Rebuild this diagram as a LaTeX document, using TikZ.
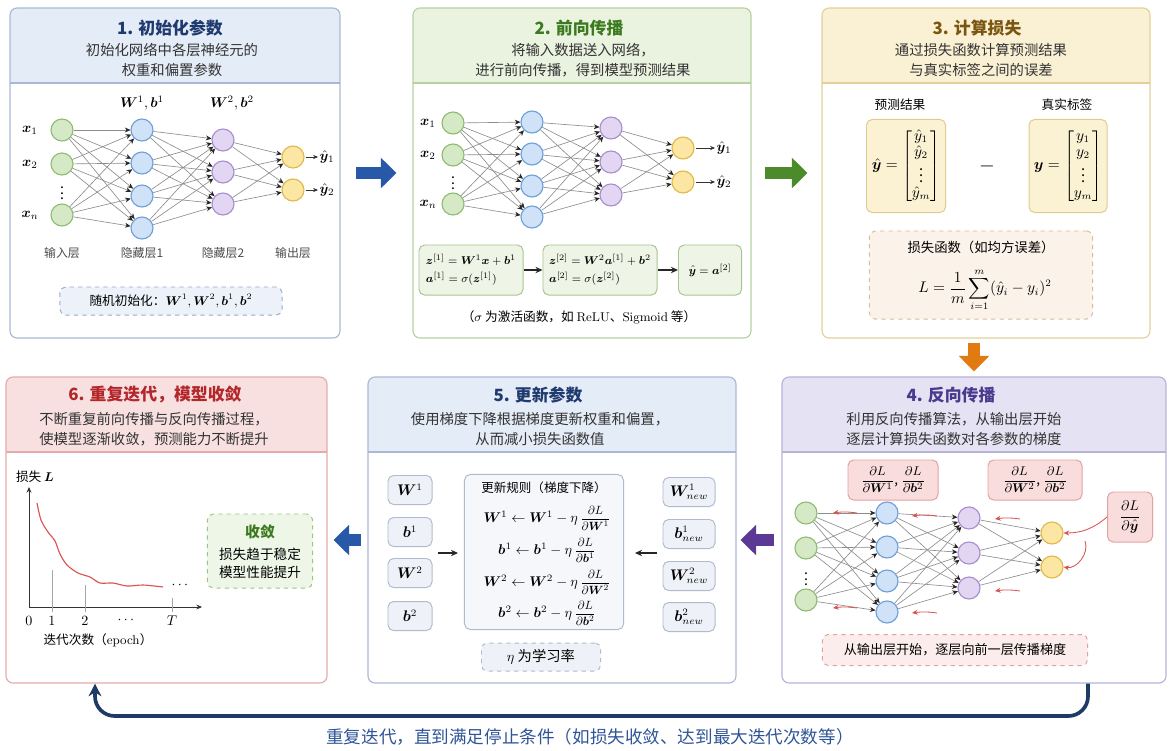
\documentclass[tikz,border=0pt]{standalone}
\usepackage{amsmath,amssymb}
\usepackage{bm}
\usepackage[no-math]{fontspec}
\setmainfont{Noto Sans CJK SC}
\usetikzlibrary{positioning,fit,arrows.meta}

\definecolor{bluebd}{HTML}{A9B9D3}
\definecolor{bluehd}{HTML}{E4ECF7}
\definecolor{bluetx}{HTML}{1F3A6E}
\definecolor{greenbd}{HTML}{B7D1A2}
\definecolor{greenhd}{HTML}{EAF2E0}
\definecolor{greentx}{HTML}{3C7A1E}
\definecolor{goldbd}{HTML}{E3D09A}
\definecolor{goldhd}{HTML}{FAF0D4}
\definecolor{goldtx}{HTML}{7B5610}
\definecolor{purpbd}{HTML}{B8B2D8}
\definecolor{purphd}{HTML}{E5E2F3}
\definecolor{purptx}{HTML}{4A3A8E}
\definecolor{redbd}{HTML}{E4ABAB}
\definecolor{redhd}{HTML}{F8E0E0}
\definecolor{redtx}{HTML}{B3262A}
\definecolor{infill}{HTML}{D6E9C6}
\definecolor{inbd}{HTML}{8FBB72}
\definecolor{hafill}{HTML}{CFE2F8}
\definecolor{habd}{HTML}{6E9FD6}
\definecolor{hbfill}{HTML}{E2D6F2}
\definecolor{hbbd}{HTML}{A98DD1}
\definecolor{outfill}{HTML}{FCE6A4}
\definecolor{outbd}{HTML}{E2B84A}
\definecolor{arrblue}{HTML}{2859A8}
\definecolor{arrgreen}{HTML}{4C8B2B}
\definecolor{arrorange}{HTML}{E27A12}
\definecolor{arrpurple}{HTML}{5B3995}
\definecolor{loopnavy}{HTML}{1E3A66}
\definecolor{looptx}{HTML}{2F5597}
\definecolor{gradred}{HTML}{D9534F}
\definecolor{gradfill}{HTML}{F9DCDC}
\definecolor{gradbd}{HTML}{E3A2A2}
\definecolor{gradsoft}{HTML}{FCEDED}
\definecolor{fwdfill}{HTML}{EEF5E6}
\definecolor{fwdbd}{HTML}{A8C690}
\definecolor{lossfill}{HTML}{FBF1D3}
\definecolor{lossbd}{HTML}{E0CB8E}
\definecolor{losssoft}{HTML}{FBF3EA}
\definecolor{lossdash}{HTML}{D8BE98}
\definecolor{parfill}{HTML}{EEF2F8}
\definecolor{parbd}{HTML}{B0BCCD}
\definecolor{initfill}{HTML}{EDF2FA}
\definecolor{initdash}{HTML}{9AAAC5}
\definecolor{convfill}{HTML}{EEF6E8}
\definecolor{convbd}{HTML}{9EC485}

\newcommand{\gradfrac}[2]{\scalebox{0.85}{$\dfrac{#1}{#2}$}}

\tikzset{
        % Panels with a coloured header band
        panel/.style 2 args={draw=#1, fill=white, rounded corners=5pt, line width=0.8pt, inner sep=0pt,
            path picture={\fill[#2, sharp corners] (path picture bounding box.north west) rectangle ([yshift=-1.875cm]path picture bounding box.north east);
                \draw[#1, line width=0.8pt, sharp corners] ([yshift=-1.875cm]path picture bounding box.north west) -- ([yshift=-1.875cm]path picture bounding box.north east);}},
        panel_title/.style={font=\bfseries\fontsize{12}{14}\selectfont},
        panel_sub/.style={align=center, text=black!80, font=\fontsize{10.2}{13.8}\selectfont},
        % Neurons
        neuron/.style={circle, line width=0.8pt, minimum size=0.55cm, inner sep=0pt},
        node_input/.style={neuron, draw=inbd, fill=infill},
        node_hidden_a/.style={neuron, draw=habd, fill=hafill},
        node_hidden_b/.style={neuron, draw=hbbd, fill=hbfill},
        node_output/.style={neuron, draw=outbd, fill=outfill},
        conn/.style={draw=black!45, line width=0.45pt, -{Stealth[length=4pt,width=3.5pt,color=black!85]}},
        out_arrow/.style={draw=black!80, line width=0.5pt, -{Stealth[length=3.5pt,width=3pt]}, shorten <=1pt},
        step_arrow/.style={draw=black!85, line width=1pt, -{Stealth[length=5pt,width=4.5pt]}},
        grad_arrow/.style={draw=gradred, line width=0.6pt, -{Stealth[length=4pt,width=3.5pt]}},
        % Texts
        layer_label/.style={inner sep=1pt, text=black!70, font=\fontsize{8.5}{10}\selectfont},
        math_label/.style={inner sep=1pt, font=\fontsize{10}{12}\selectfont},
        small_text/.style={inner sep=1pt, font=\fontsize{9}{11}\selectfont},
        % Boxes
        soft_box/.style={rounded corners=4pt, line width=0.7pt, inner sep=2pt},
        dash_box/.style={soft_box, dashed},
        % Big flow arrows
        flow/.style={line width=8.5pt, -{Triangle[length=11pt,width=21pt]}},
        loop_line/.style={draw=loopnavy, line width=2.6pt, rounded corners=14pt, -{Stealth[length=9pt,width=9pt]}}
}

\begin{document}
\begin{tikzpicture}[x=0.025cm, y=-0.025cm]
\useasboundingbox (0,0) rectangle (1174,750);

% Panels
\node[panel={bluebd}{bluehd}, fit={(10,8) (340,338)}] (p1) {};
\node[panel={greenbd}{greenhd}, fit={(413,8) (751,338)}] (p2) {};
\node[panel={goldbd}{goldhd}, fit={(822,8) (1150,338)}] (p3) {};
\node[panel={purpbd}{purphd}, fit={(782,377) (1166,683)}] (p4) {};
\node[panel={bluebd}{bluehd}, fit={(368,377) (736,683)}] (p5) {};
\node[panel={redbd}{redhd}, fit={(6,377) (327,683)}] (p6) {};

% Headers
\node[panel_title, text=bluetx] (p1-title) at (170,28) {1. 初始化参数};
\node[panel_sub] (p1-sub) at (172,60) {初始化网络中各层神经元的\\权重和偏置参数};
\node[panel_title, text=greentx] (p2-title) at (579,28) {2. 前向传播};
\node[panel_sub] (p2-sub) at (583,60) {将输入数据送入网络，\\进行前向传播，得到模型预测结果};
\node[panel_title, text=goldtx] (p3-title) at (977,28) {3. 计算损失};
\node[panel_sub] (p3-sub) at (981,60) {通过损失函数计算预测结果\\与真实标签之间的误差};
\node[panel_title, text=purptx] (p4-title) at (951,395) {4. 反向传播};
\node[panel_sub] (p4-sub) at (954,429) {利用反向传播算法，从输出层开始\\逐层计算损失函数对各参数的梯度};
\node[panel_title, text=bluetx] (p5-title) at (538,395) {5. 更新参数};
\node[panel_sub] (p5-sub) at (540,429) {使用梯度下降根据梯度更新权重和偏置，\\从而减小损失函数值};
\node[panel_title, text=redtx] (p6-title) at (155,395) {6. 重复迭代，模型收敛};
\node[panel_sub] (p6-sub) at (154,429) {不断重复前向传播与反向传播过程，\\使模型逐渐收敛，预测能力不断提升};

% 1. network with initial parameters
\foreach \y [count=\i] in {130,164,215}
    \node[node_input] (a-in\i) at (62,\y) {};
\foreach \y [count=\i] in {130,163,196,228}
    \node[node_hidden_a] (a-ha\i) at (142,\y) {};
\foreach \y [count=\i] in {140,172,204}
    \node[node_hidden_b] (a-hb\i) at (223,\y) {};
\foreach \y [count=\i] in {157,190}
    \node[node_output] (a-out\i) at (293,\y) {};
\foreach \i in {1,...,3}
    \foreach \j in {1,...,4}
        \draw[conn] (a-in\i) -- (a-ha\j);
\foreach \i in {1,...,4}
    \foreach \j in {1,...,3}
        \draw[conn] (a-ha\i) -- (a-hb\j);
\foreach \i in {1,...,3}
    \foreach \j in {1,2}
        \draw[conn] (a-hb\i) -- (a-out\j);
\node[math_label] (a-x1) at (30,130) {$\bm x_1$};
\node[math_label] (a-x2) at (30,164) {$\bm x_2$};
\node[math_label] (a-xn) at (30,215) {$\bm x_n$};
\node[inner sep=0pt] (a-dots) at (62,189) {$\vdots$};
\node[math_label] (a-y1) at (327,157) {$\hat{\bm y}_1$};
\node[math_label] (a-y2) at (327,190) {$\hat{\bm y}_2$};
\draw[out_arrow] (a-out1) -- (a-y1);
\draw[out_arrow] (a-out2) -- (a-y2);
\node[math_label] (a-w1) at (142,103) {$\bm W^1, \bm b^1$};
\node[math_label] (a-w2) at (232,103) {$\bm W^2, \bm b^2$};
\node[layer_label] (a-l1) at (62,253) {输入层};
\node[layer_label] (a-l2) at (142,253) {隐藏层1};
\node[layer_label] (a-l3) at (223,253) {隐藏层2};
\node[layer_label] (a-l4) at (293,253) {输出层};
\node[dash_box, draw=initdash, fill=initfill, minimum width=5.55cm, minimum height=0.7cm, font=\fontsize{9}{11}\selectfont] (a-init) at (171,301) {随机初始化：$\bm W^1, \bm W^2, \bm b^1, \bm b^2$};

% 2. forward pass
\foreach \y [count=\i] in {123,155,204}
    \node[node_input] (b-in\i) at (453,\y) {};
\foreach \y [count=\i] in {122,154,186,217}
    \node[node_hidden_a] (b-ha\i) at (532,\y) {};
\foreach \y [count=\i] in {128,162,195}
    \node[node_hidden_b] (b-hb\i) at (611,\y) {};
\foreach \y [count=\i] in {148,182}
    \node[node_output] (b-out\i) at (683,\y) {};
\foreach \i in {1,...,3}
    \foreach \j in {1,...,4}
        \draw[conn] (b-in\i) -- (b-ha\j);
\foreach \i in {1,...,4}
    \foreach \j in {1,...,3}
        \draw[conn] (b-ha\i) -- (b-hb\j);
\foreach \i in {1,...,3}
    \foreach \j in {1,2}
        \draw[conn] (b-hb\i) -- (b-out\j);
\node[math_label] (b-x1) at (428,123) {$\bm x_1$};
\node[math_label] (b-x2) at (428,155) {$\bm x_2$};
\node[math_label] (b-xn) at (428,204) {$\bm x_n$};
\node[inner sep=0pt] (b-dots) at (453,179) {$\vdots$};
\node[math_label] (b-y1) at (724,148) {$\hat{\bm y}_1$};
\node[math_label] (b-y2) at (724,182) {$\hat{\bm y}_2$};
\draw[out_arrow] (b-out1) -- (b-y1);
\draw[out_arrow] (b-out2) -- (b-y2);
\node[soft_box, draw=fwdbd, fill=fwdfill, minimum width=2.6cm, minimum height=1.25cm, align=left, font=\fontsize{8}{13}\selectfont] (b-f1) at (471,270)
    {$\bm z^{[1]} = \bm W^1\bm x + \bm b^1$\\$\bm a^{[1]} = \sigma(\bm z^{[1]})$};
\node[soft_box, draw=fwdbd, fill=fwdfill, minimum width=2.85cm, minimum height=1.25cm, align=left, font=\fontsize{8}{13}\selectfont] (b-f2) at (600,270)
    {$\bm z^{[2]} = \bm W^2\bm a^{[1]} + \bm b^2$\\$\bm a^{[2]} = \sigma(\bm z^{[2]})$};
\node[soft_box, draw=fwdbd, fill=fwdfill, minimum width=1.575cm, minimum height=1.25cm, font=\fontsize{8.5}{13}\selectfont] (b-f3) at (710,270)
    {$\hat{\bm y} = \bm a^{[2]}$};
\draw[step_arrow] (b-f1) -- (b-f2);
\draw[step_arrow] (b-f2) -- (b-f3);
\node[small_text] (b-note) at (579,317) {（$\sigma$ 为激活函数，如 $\mathrm{ReLU}$、$\mathrm{Sigmoid}$ 等）};

% 3. loss
\node[small_text] (c-lp) at (900,105) {预测结果};
\node[small_text] (c-lt) at (1067,105) {真实标签};
\node[soft_box, draw=lossbd, fill=lossfill, minimum width=1.975cm, minimum height=2.325cm, font=\fontsize{10.5}{11}\selectfont] (c-pred) at (906,166)
    {$\hat{\bm y} = \begin{bmatrix} \hat{y}_1\\ \hat{y}_2\\ \vdots\\ \hat{y}_m \end{bmatrix}$};
\node[soft_box, draw=lossbd, fill=lossfill, minimum width=1.95cm, minimum height=2.325cm, font=\fontsize{10.5}{11}\selectfont] (c-true) at (1068,166)
    {$\bm y = \begin{bmatrix} y_1\\ y_2\\ \vdots\\ y_m \end{bmatrix}$};
\node[font=\Large, inner sep=1pt] (c-minus) at (987,166) {$-$};
\node[dash_box, draw=lossdash, fill=losssoft, minimum width=5.575cm, minimum height=2.2cm] (c-lossbox) at (981,275) {};
\node[inner sep=1pt, font=\fontsize{9.5}{11}\selectfont] (c-losslabel) at (981,247) {损失函数（如均方误差）};
\node[inner sep=0pt, font=\fontsize{10.5}{12}\selectfont] (c-loss) at (985,290) {$\displaystyle L = \frac{1}{m}\sum_{i=1}^{m}(\hat{y}_i - y_i)^2$};

% 4. backward pass
\foreach \y [count=\i] in {513,548,600}
    \node[node_input] (d-in\i) at (806,\y) {};
\foreach \y [count=\i] in {513,547,581,612}
    \node[node_hidden_a] (d-ha\i) at (887,\y) {};
\foreach \y [count=\i] in {518,553,588}
    \node[node_hidden_b] (d-hb\i) at (969,\y) {};
\foreach \y [count=\i] in {533,567}
    \node[node_output] (d-out\i) at (1052,\y) {};
\foreach \i in {1,...,3}
    \foreach \j in {1,...,4}
        \draw[conn] (d-in\i) -- (d-ha\j);
\foreach \i in {1,...,4}
    \foreach \j in {1,...,3}
        \draw[conn] (d-ha\i) -- (d-hb\j);
\foreach \i in {1,...,3}
    \foreach \j in {1,2}
        \draw[conn] (d-hb\i) -- (d-out\j);
\node[inner sep=0pt] (d-dots) at (806,575) {$\vdots$};
\node[soft_box, draw=gradbd, fill=gradfill, minimum width=2.25cm, minimum height=1cm, font=\fontsize{9.5}{11}\selectfont] (d-g1) at (893,480)
    {$\dfrac{\partial L}{\partial \bm W^1}$, $\dfrac{\partial L}{\partial \bm b^2}$};
\node[soft_box, draw=gradbd, fill=gradfill, minimum width=2.35cm, minimum height=1cm, font=\fontsize{9.5}{11}\selectfont] (d-g2) at (1035,480)
    {$\dfrac{\partial L}{\partial \bm W^2}$, $\dfrac{\partial L}{\partial \bm b^2}$};
\node[soft_box, draw=gradbd, fill=gradfill, minimum width=1.125cm, minimum height=1.25cm, font=\fontsize{10}{11}\selectfont] (d-gy) at (1130,517)
    {$\dfrac{\partial L}{\partial \hat{\bm y}}$};
\foreach \xa/\xb/\y [count=\i] in {857/833/513, 937/912/516, 1020/995/519, 857/833/608, 937/912/613, 1020/995/591} {
    \coordinate (d-r\i s) at (\xa,\y);
    \coordinate (d-r\i e) at (\xb,\y);
    \draw[grad_arrow] (d-r\i s) to[bend right=8] (d-r\i e);
}
\draw[grad_arrow] (d-gy.west) to[bend left=20] (d-out1.east);
\coordinate (d-back) at (1085,541);
\draw[grad_arrow] (d-back) to[bend left=60] (d-out2.east);
\node[dash_box, draw=gradbd, fill=gradsoft, minimum width=6.625cm, minimum height=0.775cm, font=\fontsize{9.3}{11}\selectfont] (d-note) at (955,650)
    {从输出层开始，逐层向前一层传播梯度};

% 5. parameter update
\foreach \t/\y [count=\i] in {{\bm W^1}/490, {\bm b^1}/532, {\bm W^2}/573, {\bm b^2}/616}
    \node[soft_box, draw=parbd, fill=parfill, minimum width=1.1cm, minimum height=0.725cm, font=\fontsize{10.5}{12}\selectfont] (e-old\i) at (410,\y) {$\t$};
\foreach \t/\y [count=\i] in {{\bm W^1_{new}}/492, {\bm b^1_{new}}/534, {\bm W^2_{new}}/576, {\bm b^2_{new}}/617}
    \node[soft_box, draw=parbd, fill=parfill, minimum width=1.3cm, minimum height=0.725cm, font=\fontsize{10.5}{12}\selectfont] (e-new\i) at (689,\y) {$\t$};
\node[soft_box, draw=parbd, fill=parfill!60, minimum width=3.975cm, minimum height=3.875cm] (e-rule) at (544,552) {};
\node[inner sep=1pt, font=\fontsize{8.9}{11}\selectfont] (e-rule-title) at (544,488) {更新规则（梯度下降）};
\node[math_label, inner sep=0pt] (e-eq1) at (547,518) {$\bm W^1 \leftarrow \bm W^1 - \eta\,\gradfrac{\partial L}{\partial \bm W^1}$};
\node[math_label, inner sep=0pt] (e-eq2) at (547,550) {$\bm b^1 \leftarrow \bm b^1 - \eta\,\gradfrac{\partial L}{\partial \bm b^1}$};
\node[math_label, inner sep=0pt] (e-eq3) at (547,582) {$\bm W^2 \leftarrow \bm W^2 - \eta\,\gradfrac{\partial L}{\partial \bm W^2}$};
\node[math_label, inner sep=0pt] (e-eq4) at (547,613) {$\bm b^2 \leftarrow \bm b^2 - \eta\,\gradfrac{\partial L}{\partial \bm b^2}$};
\coordinate (e-in-s) at (438,553);
\coordinate (e-in-e) at (458,553);
\coordinate (e-back-s) at (657,553);
\coordinate (e-back-e) at (635,553);
\draw[step_arrow] (e-in-s) -- (e-in-e);
\draw[step_arrow] (e-back-s) -- (e-back-e);
\node[dash_box, draw=parbd, fill=parfill, minimum width=2.975cm, minimum height=0.7cm, font=\fontsize{10.2}{12}\selectfont] (e-eta) at (541,657) {$\eta$ 为学习率};

% 6. convergence curve
\coordinate (f-o) at (29,607);
\coordinate (f-ytop) at (29,487);
\coordinate (f-xend) at (202,607);
\draw[black!80, line width=0.6pt, -{Stealth[length=4pt,width=3.5pt]}] (f-o) -- (f-ytop);
\draw[black!80, line width=0.6pt, -{Stealth[length=4pt,width=3.5pt]}] (f-o) -- (f-xend);
\foreach \x/\t/\top in {52/1/570, 85/2/585, 172/T/598} {
    \draw[black!35, line width=0.4pt] (\x,\top) -- (\x,612);
    \node[math_label] (f-t\t) at (\x,621) {$\t$};
}
\node[math_label] (f-t0) at (29,621) {$0$};
\node[math_label] (f-tdots) at (127,620) {$\cdots$};
\draw[gradred, line width=0.8pt] plot[smooth] coordinates {(37,503) (41,520) (48,532) (55,541) (60,554) (67,565) (78,573) (90,577) (100,583) (113,583) (127,586) (143,585) (163,587)};
\node[math_label] (f-cdots) at (181,585) {$\cdots$};
\node[small_text] (f-ylabel) at (35,477) {损失 $\bm L$};
\node[small_text] (f-xlabel) at (98,640) {迭代次数（$\mathrm{epoch}$）};
\node[dash_box, draw=convbd, fill=convfill, minimum width=2.625cm, minimum height=1.85cm] (f-conv) at (260,551) {};
\node[inner sep=1pt, font=\bfseries\fontsize{10.5}{12}\selectfont, text=greentx] (f-conv-title) at (260,532) {收敛};
\node[inner sep=1pt, font=\fontsize{9.7}{12.5}\selectfont, align=center] (f-conv-text) at (260,563) {损失趋于稳定\\模型性能提升};

% Flow between the steps
\draw[flow, arrblue, shorten <=0.375cm, shorten >=0.4cm] (p1.east) -- (p2.west);
\draw[flow, arrgreen, shorten <=0.325cm, shorten >=0.35cm] (p2.east) -- (p3.west);
\draw[flow, arrorange, shorten <=0.1cm, shorten >=0.125cm] (p4.north |- p3.south) -- (p4.north);
\draw[flow, arrpurple, shorten <=0.175cm, shorten >=0.1cm] ([yshift=-0.25cm]p4.west) -- ([yshift=-0.25cm]p5.east);
\draw[flow, arrblue, shorten <=0.15cm, shorten >=0.15cm] ([yshift=-0.25cm]p5.west) -- ([yshift=-0.25cm]p6.east);

% Iteration loop
\coordinate (loop-r) at (1088,716);
\coordinate (loop-l) at (95,716);
\draw[loop_line] (p4.south -| loop-r) -- (loop-r) -- (loop-l) -- (p6.south -| loop-l);
\node[text=looptx, inner sep=1pt, font=\fontsize{12.5}{14}\selectfont] (loop-text) at (590,737) {重复迭代，直到满足停止条件（如损失收敛、达到最大迭代次数等）};
\end{tikzpicture}
\end{document}
